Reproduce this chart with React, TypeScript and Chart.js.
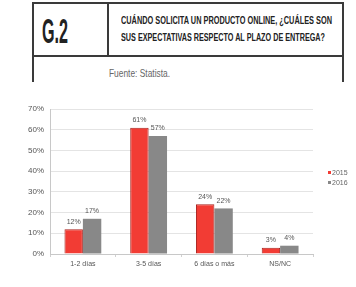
import React, { useEffect, useLayoutEffect, useRef } from "react";
import { Chart, registerables } from "chart.js";

Chart.register(...registerables);

const categories = ["1-2 días", "3-5 días", "6 días o más", "NS/NC"];
const series2015 = [12, 61, 24, 3];
const series2016 = [17, 57, 22, 4];
const seriesNames = ["2015", "2016"];
const yTicks = [0, 10, 20, 30, 40, 50, 60, 70];
const titleLines = [
  "CUÁNDO SOLICITA UN PRODUCTO ONLINE, ¿CUÁLES SON",
  "SUS EXPECTATIVAS RESPECTO AL PLAZO DE ENTREGA?",
];
const codeLabel = "G.2";
const sourceLabel = "Fuente: Statista.";

const RED = "#F23C34";
const GRAY = "#888888";
const FONT = "'Liberation Sans', Arial, sans-serif";

function FitText(props: {
  text: string;
  left: number;
  top: number;
  width: number;
  size: number;
  weight?: number | string;
  color?: string;
}) {
  const ref = useRef<HTMLSpanElement>(null);
  useLayoutEffect(() => {
    const el = ref.current;
    if (!el) return;
    el.style.transform = "none";
    const w = el.getBoundingClientRect().width;
    if (w > 0) el.style.transform = `scaleX(${props.width / w})`;
  }, [props.text, props.width]);
  return (
    <span
      ref={ref}
      style={{
        position: "absolute",
        left: props.left,
        top: props.top,
        fontFamily: FONT,
        fontSize: props.size,
        lineHeight: `${props.size}px`,
        fontWeight: props.weight ?? "normal",
        color: props.color ?? "#222",
        whiteSpace: "nowrap",
        transformOrigin: "0 0",
        display: "inline-block",
      }}
    >
      {props.text}
    </span>
  );
}

const labelPlugin = {
  id: "barValueLabels",
  afterDatasetsDraw(chart: any) {
    const ctx = chart.ctx;
    ctx.save();
    ctx.font = `7px ${FONT}`;
    ctx.fillStyle = "#555";
    ctx.textAlign = "center";
    ctx.textBaseline = "bottom";
    chart.data.datasets.forEach((ds: any, di: number) => {
      const meta = chart.getDatasetMeta(di);
      meta.data.forEach((bar: any, i: number) => {
        ctx.fillText(`${ds.data[i]}%`, bar.x, bar.y - 4);
      });
    });
    ctx.restore();
  },
};

function BarChart() {
  const canvasRef = useRef<HTMLCanvasElement>(null);
  useEffect(() => {
    const canvas = canvasRef.current;
    if (!canvas) return;
    const chart = new Chart(canvas, {
      type: "bar",
      data: {
        labels: categories,
        datasets: [
          {
            label: seriesNames[0],
            data: series2015,
            backgroundColor: RED,
            borderColor: "#A8231E",
            borderWidth: 1,
            barPercentage: 1,
            categoryPercentage: 0.56,
          },
          {
            label: seriesNames[1],
            data: series2016,
            backgroundColor: GRAY,
            borderColor: "#7a7a7a",
            borderWidth: 0,
            barPercentage: 1,
            categoryPercentage: 0.56,
          },
        ],
      },
      plugins: [labelPlugin],
      options: {
        animation: false,
        responsive: false,
        maintainAspectRatio: false,
        layout: { padding: { top: 14, right: 43, left: 0, bottom: 0 } },
        plugins: { legend: { display: false }, tooltip: { enabled: false } },
        scales: {
          x: {
            grid: {
              display: true,
              drawOnChartArea: false,
              drawTicks: true,
              tickLength: 3,
              color: "#d0d0d0",
              offset: true,
            },
            border: { color: "#c8c8c8", width: 1 },
            ticks: {
              color: "#555",
              font: { size: 7, family: FONT },
              padding: 3,
              maxRotation: 0,
            },
            afterFit: (s: any) => {
              s.height = 26;
            },
          },
          y: {
            min: yTicks[0],
            max: yTicks[yTicks.length - 1],
            afterBuildTicks: (s: any) => {
              s.ticks = yTicks.map((v) => ({ value: v }));
            },
            grid: { color: "#e4e4e4", drawTicks: false },
            border: { color: "#c8c8c8", width: 1 },
            ticks: {
              color: "#555",
              font: { size: 8, family: FONT },
              padding: 6,
              callback: (v: any) => `${v}%`,
            },
            afterFit: (s: any) => {
              s.width = 50;
            },
          },
        },
      },
    });
    return () => chart.destroy();
  }, []);
  return (
    <canvas
      ref={canvasRef}
      width={356}
      height={185}
      style={{ position: "absolute", left: 0, top: 95, width: 356, height: 185 }}
    />
  );
}

const line = (l: number, t: number, w: number, h: number) => (
  <div
    style={{
      position: "absolute",
      left: l,
      top: t,
      width: w,
      height: h,
      background: "#3a3a3a",
    }}
  />
);

export default function App() {
  return (
    <div
      style={{
        position: "absolute",
        left: 0,
        top: 0,
        width: 356,
        height: 287,
        background: "#fff",
        overflow: "hidden",
      }}
    >
      {line(32, 2, 312, 2)}
      {line(32, 55, 312, 2)}
      {line(32, 2, 2, 80)}
      {line(342, 2, 2, 80)}
      {line(107, 2, 2, 54)}
      <FitText text={codeLabel} left={42} top={13} width={26} size={35} weight="bold" color="#222" />
      <FitText text={titleLines[0]} left={121} top={14.5} width={211} size={11} weight="bold" color="#222" />
      <FitText text={titleLines[1]} left={121} top={32} width={204} size={11} weight="bold" color="#222" />
      <FitText text={sourceLabel} left={109} top={67.5} width={61} size={11} color="#666" />
      <BarChart />
      {seriesNames.map((name, i) => (
        <div
          key={name}
          style={{
            position: "absolute",
            left: 328,
            top: 168 + i * 10,
            height: 8,
            display: "flex",
            alignItems: "center",
            fontFamily: FONT,
            fontSize: 7,
            color: "#666",
          }}
        >
          <span
            style={{
              display: "inline-block",
              width: 3,
              height: 3,
              background: i === 0 ? RED : GRAY,
              marginRight: 1,
            }}
          />
          {name}
        </div>
      ))}
    </div>
  );
}
